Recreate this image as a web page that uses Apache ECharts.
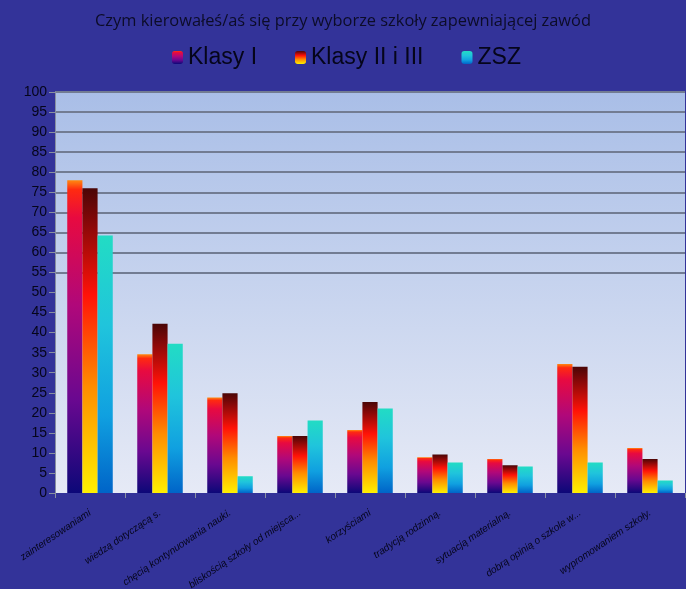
<!DOCTYPE html>
<html>
<head>
<meta charset="utf-8">
<script src="https://cdn.jsdelivr.net/npm/echarts@6/dist/echarts.min.js"></script>
<style>
html,body{margin:0;padding:0;background:#333399;}
#c{width:686px;height:589px;}
</style>
</head>
<body>
<div id="c"></div>
<script>
var categories = [
  'zainteresowaniami',
  'wiedzą dotyczącą s.',
  'chęcią kontynuowania nauki.',
  'bliskością szkoły od miejsca...',
  'korzyściami',
  'tradycją rodzinną.',
  'sytuacją materialną.',
  'dobrą opinią o szkole w...',
  'wypromowaniem szkoły.'
];
var klasyI = [78, 34.6, 23.8, 14.2, 15.7, 8.9, 8.5, 32.2, 11.2];
var klasyIIiIII = [76, 42.2, 24.9, 14.2, 22.7, 9.6, 6.9, 31.5, 8.5];
var zsz = [64.2, 37.2, 4.2, 18.1, 21.1, 7.6, 6.6, 7.6, 3.1];
var yTicks = [0,5,10,15,20,25,30,35,40,45,50,55,60,65,70,75,80,85,90,95,100];

function grad(stops){
  return new echarts.graphic.LinearGradient(0,0,0,1, stops.map(function(s){return {offset:s[0], color:s[1]};}));
}
var gI = grad([[0,'#ff8a10'],[0.03,'#ff2a10'],[0.12,'#e80a40'],[0.4,'#b0087a'],[0.7,'#6a0890'],[1,'#0c0878']]);
var gII = grad([[0,'#4a0606'],[0.12,'#8a0808'],[0.35,'#ff1208'],[0.65,'#ff8c00'],[1,'#fff000']]);
var gZ = grad([[0,'#22dcc4'],[0.35,'#20c4dc'],[0.7,'#10a0e0'],[1,'#0064c8']]);

var gridColors = yTicks.map(function(v){ return v >= 55 ? '#727c92' : 'rgba(0,0,0,0)'; });

var chart = echarts.init(document.getElementById('c'));
chart.setOption({
  backgroundColor:'#333399',
  title:{
    text:'Czym kierowałeś/aś się przy wyborze szkoły zapewniającej zawód',
    left:'center', top:8,
    textStyle:{fontFamily:'Open Sans', fontSize:16.4, fontWeight:'normal', color:'#0c0c28'}
  },
  legend:{
    top:41, left:167, itemGap:38, itemWidth:11, itemHeight:13,
    textStyle:{fontFamily:'Liberation Sans', fontSize:23, color:'#05051a'},
    data:['Klasy I','Klasy II i III','ZSZ']
  },
  grid:{left:55, right:1, top:92, bottom:96, show:true, borderWidth:0, containLabel:false, outerBoundsMode:'none',
    backgroundColor: grad([[0,'#a9bee7'],[1,'#e6eaf6']])},
  xAxis:{
    type:'category', data:categories,
    axisLine:{show:false},
    axisTick:{show:true, length:5, lineStyle:{color:'#8890a0'}},
    axisLabel:{interval:0, rotate:34, fontSize:10, fontStyle:'italic', color:'#05051a', fontFamily:'Liberation Sans', margin:19}
  },
  yAxis:{
    type:'value', min:0, max:100, interval:5,
    axisLine:{show:true, lineStyle:{color:'#8890a0'}},
    axisTick:{show:true, length:6, lineStyle:{color:'#8890a0'}},
    axisLabel:{fontSize:14, color:'#05051a', fontFamily:'Liberation Sans', margin:8},
    splitLine:{show:true, lineStyle:{color:gridColors, width:2}}
  },
  series:[
    {name:'Klasy I', type:'bar', data:klasyI, itemStyle:{color:gI}, barGap:'0%', barCategoryGap:'35%'},
    {name:'Klasy II i III', type:'bar', data:klasyIIiIII, itemStyle:{color:gII}},
    {name:'ZSZ', type:'bar', data:zsz, itemStyle:{color:gZ}}
  ]
});
</script>
</body>
</html>
